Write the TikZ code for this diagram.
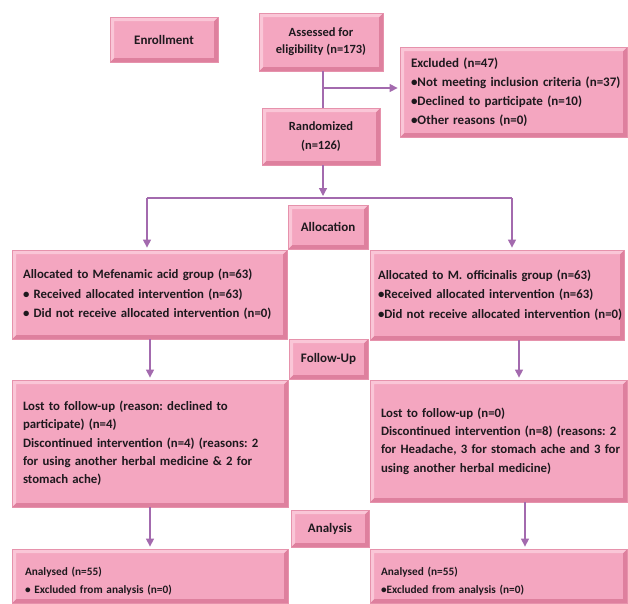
\documentclass[tikz,border=0pt]{standalone}
\usepackage{fontspec}
\setmainfont{Carlito}
\usetikzlibrary{arrows.meta}
\frenchspacing

\definecolor{pinkfill}{RGB}{244,166,192}
\definecolor{pinkdark}{RGB}{222,128,158}
\definecolor{pinklight}{RGB}{250,198,215}
\definecolor{pinkedge}{RGB}{230,146,172}
\definecolor{arrowline}{RGB}{163,106,174}
\definecolor{textdark}{RGB}{30,25,30}

% keep the lines of a box as written
\newcommand{\boxlines}[1]{\begin{tabular}{@{}l@{}}#1\end{tabular}}

\tikzset{
  box/.style={draw=pinkedge, fill=pinkfill, line width=0.8pt, inner sep=0pt,
    text=textdark, font=\bfseries,
    path picture={
      \fill[pinkdark] (path picture bounding box.south west) -- (path picture bounding box.south east)
        -- (path picture bounding box.north east) -- ([xshift=-4pt,yshift=-4pt]path picture bounding box.north east)
        -- ([xshift=-4pt,yshift=4pt]path picture bounding box.south east) -- ([xshift=4pt,yshift=4pt]path picture bounding box.south west) -- cycle;
      \fill[pinklight] (path picture bounding box.south west) -- (path picture bounding box.north west)
        -- (path picture bounding box.north east) -- ([xshift=-4pt,yshift=-4pt]path picture bounding box.north east)
        -- ([xshift=4pt,yshift=-4pt]path picture bounding box.north west) -- ([xshift=4pt,yshift=4pt]path picture bounding box.south west) -- cycle;
    }},
  stage/.style={box, align=center, font=\bfseries\fontsize{13}{16}\selectfont},
  group/.style={box, align=left, inner xsep=11pt},
  conn/.style={draw=arrowline, line width=1.2pt},
  arr/.style={conn, -{Triangle[length=8pt,width=8pt]}, shorten >=2pt}
}

\begin{document}
\begin{tikzpicture}[x=1pt,y=-1pt]
  \useasboundingbox (0,0) rectangle (628,603);

  % top part
  \node[stage, minimum width=108pt, minimum height=45pt] (enroll) at (164,39.5) {Enrollment};
  \node[stage, minimum width=124pt, minimum height=58pt, font=\bfseries\fontsize{12.5}{17}\selectfont] (assess) at (321,42) {Assessed for\\eligibility (n=173)};
  \node[group, text width=205pt, minimum height=90pt, font=\bfseries\fontsize{13}{19}\selectfont] (excl) at (513.5,92)
    {\boxlines{Excluded (n=47)\\\textbullet Not meeting inclusion criteria (n=37)\\\textbullet Declined to participate (n=10)\\\textbullet Other reasons (n=0)}};
  \node[stage, minimum width=118pt, minimum height=57pt, font=\bfseries\fontsize{12.5}{19}\selectfont] (rand) at (321,136.5) {Randomized\\(n=126)};

  % stages
  \node[stage, minimum width=80pt, minimum height=44pt] (alloc) at (328,227) {Allocation};
  \node[stage, minimum width=79pt, minimum height=40pt] (follow) at (328.5,359) {Follow-Up};
  \node[stage, minimum width=78pt, minimum height=37pt] (analysis) at (330,528.5) {Analysis};

  % allocation
  \node[group, text width=253pt, minimum height=89pt, font=\bfseries\fontsize{12.8}{19.5}\selectfont] (allocL) at (149.5,294.5)
    {\boxlines{Allocated to Mefenamic acid group (n=63)\\\textbullet{} Received allocated intervention (n=63)\\\textbullet{} Did not receive allocated intervention (n=0)}};
  \node[group, text width=238pt, inner xsep=8pt, minimum height=90pt, font=\bfseries\fontsize{12.8}{19.5}\selectfont] (allocR) at (497,295)
    {\boxlines{Allocated to M. officinalis group (n=63)\\\textbullet Received allocated intervention (n=63)\\\textbullet Did not receive allocated intervention (n=0)}};

  % follow-up
  \node[group, text width=254pt, minimum height=127pt, font=\bfseries\fontsize{12.8}{18.3}\selectfont] (followL) at (150,443.5)
    {\boxlines{Lost to follow-up (reason: declined to\\participate) (n=4)\\Discontinued intervention (n=4) (reasons: 2\\for using another herbal medicine \& 2 for\\stomach ache)}};
  \node[group, text width=235pt, minimum height=122pt, font=\bfseries\fontsize{12.8}{18.3}\selectfont] (followR) at (498.5,441)
    {\boxlines{Lost to follow-up (n=0)\\Discontinued intervention (n=8) (reasons: 2\\for Headache, 3 for stomach ache and 3 for\\using another herbal medicine)}};

  % analysis
  \node[group, text width=250pt, inner xsep=13pt, minimum height=54pt, font=\bfseries\fontsize{11.3}{18}\selectfont] (anaL) at (150,576)
    {\raisebox{-5pt}[\height][\depth]{\boxlines{Analysed (n=55)\\\textbullet{} Excluded from analysis (n=0)}}};
  \node[group, text width=235pt, minimum height=54pt, font=\bfseries\fontsize{11.3}{18}\selectfont] (anaR) at (498.5,576)
    {\raisebox{-5pt}[\height][\depth]{\boxlines{Analysed (n=55)\\\textbullet Excluded from analysis (n=0)}}};

  % connectors
  \coordinate (split) at (323,88);
  \coordinate (bar) at (323,198);
  \coordinate (barL) at (147,198);
  \coordinate (barR) at (512,198);
  \draw[conn] (assess.south -| split) -- (rand.north -| split);
  \draw[arr] (split) -- (excl.west |- split);
  \draw[arr] (rand.south -| bar) -- (bar);
  \draw[conn] (barL) -- (barR);
  \draw[arr] (barL) -- (allocL.north -| barL);
  \draw[arr] (barR) -- (allocR.north -| barR);
  \draw[arr] (allocL.south -| 150,0) -- (followL.north -| 150,0);
  \draw[arr] (allocR.south -| 519,0) -- (followR.north -| 519,0);
  \draw[arr] (followL.south -| 150,0) -- (anaL.north -| 150,0);
  \draw[arr] (followR.south -| 525,0) -- (anaR.north -| 525,0);
\end{tikzpicture}
\end{document}
